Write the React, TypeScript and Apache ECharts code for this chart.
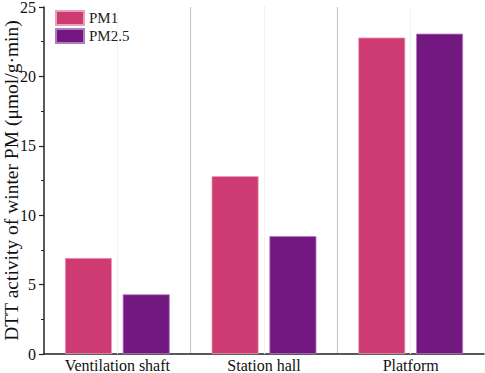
import React, { useEffect, useRef } from "react";
import * as echarts from "echarts";

const categories = ["Ventilation shaft", "Station hall", "Platform"];
const pm1 = [6.92, 12.82, 22.8];
const pm25 = [4.3, 8.5, 23.08];
const yTicks = [0, 5, 10, 15, 20, 25];

const FONT = "Liberation Serif, Times New Roman, serif";

export default function App() {
  const ref = useRef<HTMLDivElement>(null);
  useEffect(() => {
    const chart = echarts.init(ref.current!, null, { renderer: "svg" });
    chart.setOption({
      animation: false,
      grid: { left: 44, right: 1, top: 7, bottom: 19, containLabel: false, outerBoundsMode: "none" },
      legend: {
        orient: "vertical",
        left: 50,
        top: 5,
        itemWidth: 28,
        itemHeight: 14,
        itemGap: 2,
        icon: "rect",
        textStyle: { fontFamily: FONT, fontSize: 15, color: "#222" },
        data: ["PM1", "PM2.5"],
      },
      xAxis: {
        type: "category",
        data: categories,
        axisLine: { lineStyle: { color: "#222", width: 1.5 } },
        axisTick: { show: false },
        axisLabel: { fontFamily: FONT, fontSize: 16, lineHeight: 16, color: "#111", margin: 3 },
        splitLine: {
          show: true,
          interval: 0,
          showMinLine: false,
          showMaxLine: false,
          lineStyle: { color: "#c8c8c8", width: 1.2 },
        },
      },
      yAxis: {
        type: "value",
        min: yTicks[0],
        max: yTicks[yTicks.length - 1],
        interval: 5,
        name: "DTT activity of winter PM (μmol/g·min)",
        nameLocation: "middle",
        nameGap: 23,
        nameMoveOverlap: false,
        nameTextStyle: { fontFamily: FONT, fontSize: 19.5, lineHeight: 20, color: "#111" },
        axisLine: { show: true, lineStyle: { color: "#222", width: 1.5 } },
        axisTick: { show: true, inside: false, length: 5, lineStyle: { color: "#222", width: 1.2 } },
        minorTick: { show: true, splitNumber: 2, length: 3, lineStyle: { color: "#222", width: 1 } },
        axisLabel: { fontFamily: FONT, fontSize: 16, color: "#111", margin: 8 },
        splitLine: { show: false },
      },
      series: [
        {
          name: "PM1",
          type: "bar",
          data: pm1,
          barWidth: 47,
          barGap: "23%",
          itemStyle: { color: "#CE3A72", borderColor: "#e7a0bb", borderWidth: 0.8 },
        },
        {
          name: "PM2.5",
          type: "bar",
          data: pm25,
          barWidth: 47,
          barGap: "23%",
          itemStyle: { color: "#721880", borderColor: "#b27cbb", borderWidth: 0.8 },
        },
        {
          name: "centers",
          type: "line",
          data: [],
          silent: true,
          showSymbol: false,
          lineStyle: { opacity: 0 },
          markLine: {
            silent: true,
            symbol: "none",
            label: { show: false },
            lineStyle: { color: "#e4e4e4", type: "dotted", width: 1 },
            data: categories.map((c) => ({ xAxis: c })),
          },
        },
      ],
    });
    return () => chart.dispose();
  }, []);
  return <div ref={ref} style={{ width: 485, height: 373, position: "absolute", left: 0, top: 0 }} />;
}
